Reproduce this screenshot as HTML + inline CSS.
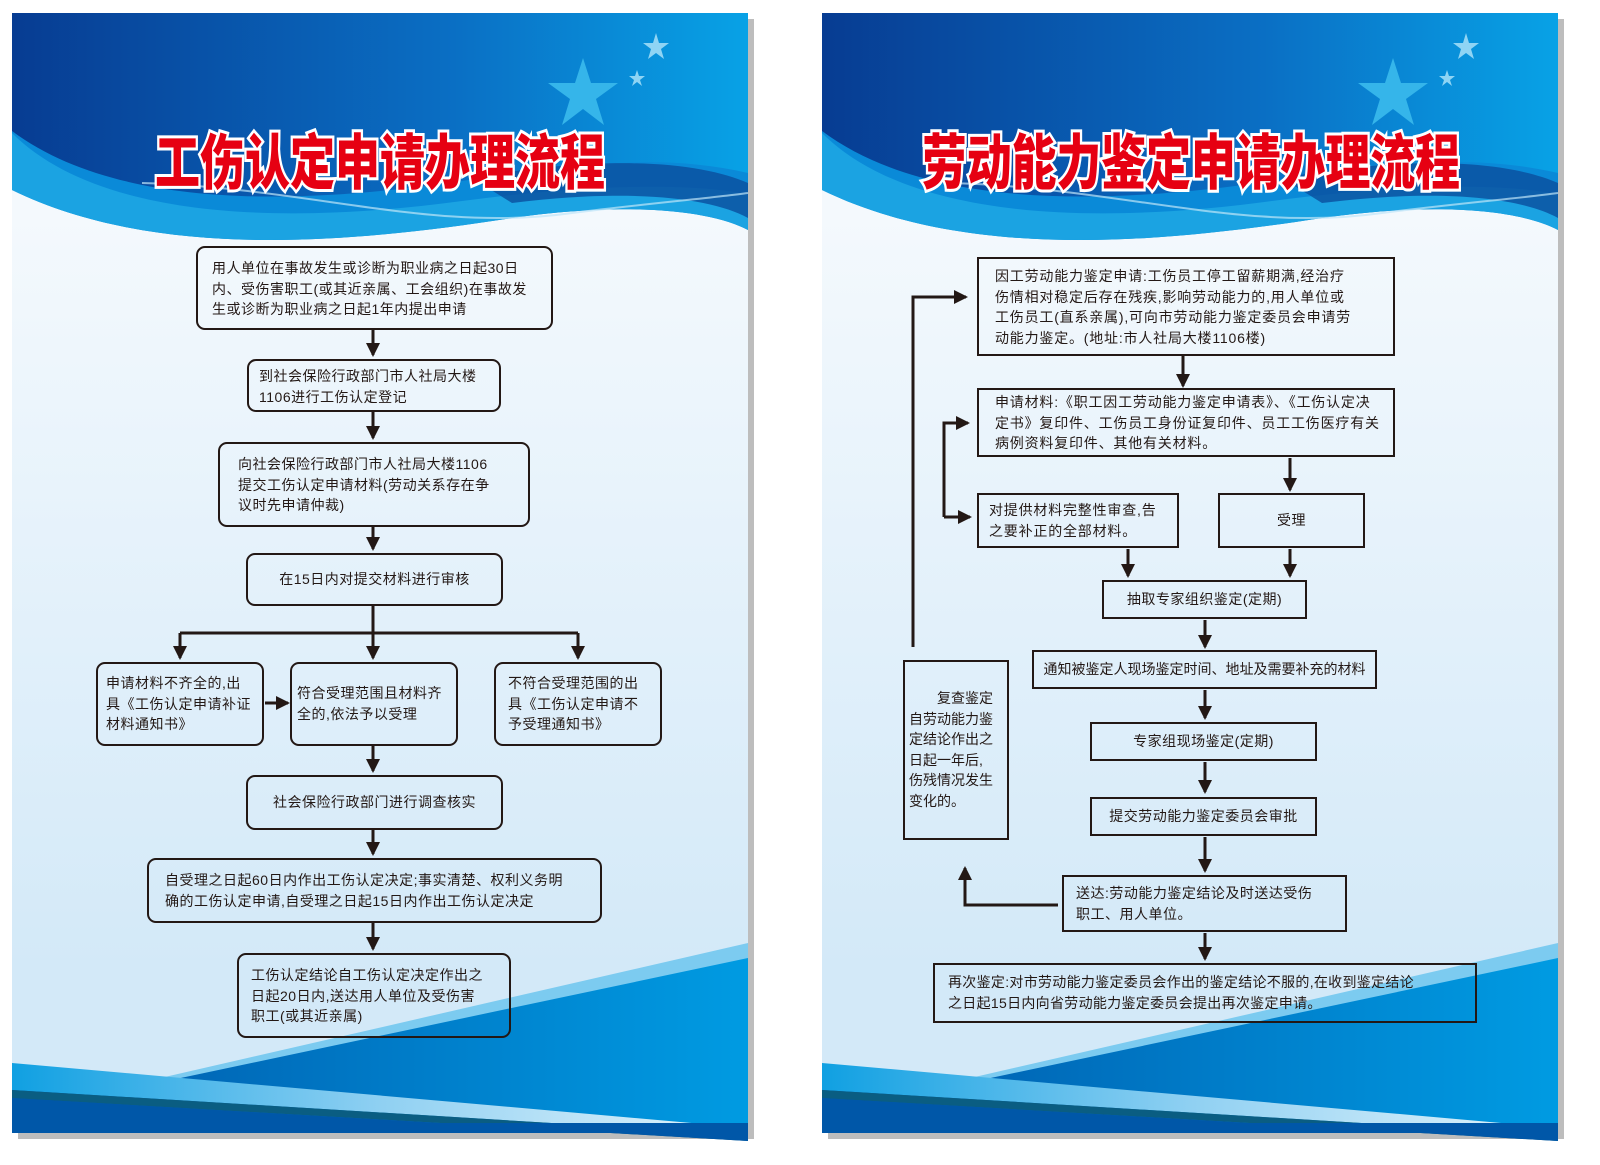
<!DOCTYPE html>
<html><head><meta charset="utf-8"><style>
*{margin:0;padding:0;box-sizing:border-box}
body{width:1600px;height:1165px;background:#fff;position:relative;overflow:hidden;font-family:"Liberation Sans","Noto Sans CJK SC",sans-serif;color:#231815}
svg.bg{position:absolute;left:0;top:0}
.b{position:absolute;border:2px solid #231815;font-size:14px;line-height:20.5px;letter-spacing:0.5px;padding:10px 12px;white-space:nowrap}
.r{border-radius:9px}
.c{text-align:center;display:flex;align-items:center;justify-content:center;padding:0}
</style></head><body>
<svg class="bg" width="1600" height="1165" viewBox="0 0 1600 1165">
<defs>
<linearGradient id="hd" x1="0" x2="1" y1="0" y2="0"><stop offset="0" stop-color="#073c92"/><stop offset="0.6" stop-color="#0a6fc4"/><stop offset="1" stop-color="#08a2e6"/></linearGradient>
<linearGradient id="bd" x1="0" x2="0" y1="0" y2="1"><stop offset="0.18" stop-color="#f4f9fd"/><stop offset="0.85" stop-color="#d3e9f8"/></linearGradient>
<linearGradient id="bt" x1="0" x2="1" y1="0" y2="0"><stop offset="0" stop-color="#0058aa"/><stop offset="1" stop-color="#009be2"/></linearGradient>
<linearGradient id="sw" x1="0" x2="1" y1="0" y2="0"><stop offset="0" stop-color="#10a0e2"/><stop offset="0.5" stop-color="#8fd0f2"/><stop offset="1" stop-color="#e6f5fc"/></linearGradient>
<g id="panel">
<rect x="6" y="6" width="736" height="1120" fill="#bdbdbd"/>
<rect x="0" y="0" width="736" height="1120" fill="url(#bd)"/>
<path d="M0,177 C150,250 350,228 500,205 C620,188 700,198 736,217 V0 H0Z" fill="#0a8ad8"/>
<path d="M0,120 C80,200 250,215 450,188 C600,168 700,172 736,182 V217 C700,198 620,188 500,205 C350,228 150,250 0,177Z" fill="#1ba3e2"/>
<path d="M0,0 H736 V160 C650,140 560,150 450,168 C300,190 110,200 0,118 Z" fill="url(#hd)"/>
<path d="M460,165 C600,140 690,150 736,170 V205 C700,185 620,175 500,190 Z" fill="#0a4e9e" opacity="0.8"/>
<path d="M130,170 C300,175 420,220 560,200 C640,190 700,185 736,180" fill="none" stroke="#bfe6f8" stroke-width="2" opacity="0.7"/>
<polygon points="571,45 579,70 606,70 584,86 592,112 571,96 550,112 558,86 536,70 563,70" fill="#35b5ea"/>
<polygon points="644,20 647,30 657,30 649,36 652,46 644,40 636,46 639,36 631,30 641,30" fill="#8fd4f4"/>
<polygon points="625,57 627,63 633,63 628,67 630,73 625,69 620,73 622,67 617,63 623,63" fill="#8fd4f4"/>
<polygon points="118,1072 736,940 736,1120 0,1120 0,1075" fill="url(#bt)"/>
<polygon points="118,1072 736,930 736,945 145,1070" fill="#7ccbf0"/>
<polygon points="0,1050 736,1115 736,1122 0,1077" fill="url(#sw)"/>
<polygon points="0,1077 736,1122 736,1128 0,1085" fill="#0a5d82"/>
<polygon points="0,1085 736,1128 736,1120 736,1120 0,1120" fill="#0057a8"/>
<rect x="0" y="1110" width="736" height="10" fill="#0057a8"/>
</g>
<marker id="ar" markerWidth="16" markerHeight="16" refX="12" refY="7" orient="auto" markerUnits="userSpaceOnUse"><path d="M0,0 L14,7 L0,14Z" fill="#231815"/></marker>
</defs>
<use href="#panel" x="12" y="13"/>
<use href="#panel" x="822" y="13"/>
<g font-family="'Noto Sans CJK SC','WenQuanYi Zen Hei',sans-serif" font-weight="900" fill="#e60012" stroke="#fff" stroke-width="6" paint-order="stroke" font-size="60">
<text x="155" y="184" textLength="450" lengthAdjust="spacingAndGlyphs">工伤认定申请办理流程</text>
<text x="922" y="184" textLength="538" lengthAdjust="spacingAndGlyphs">劳动能力鉴定申请办理流程</text>
</g>
<g stroke="#231815" stroke-width="3" fill="none" marker-end="url(#ar)">
<line x1="373" y1="330" x2="373" y2="355"/>
<line x1="373" y1="412" x2="373" y2="438"/>
<line x1="373" y1="527" x2="373" y2="549"/>
<line x1="180" y1="633" x2="180" y2="658"/>
<line x1="373" y1="606" x2="373" y2="658"/>
<line x1="578" y1="633" x2="578" y2="658"/>
<line x1="265" y1="703" x2="288" y2="703"/>
<line x1="373" y1="746" x2="373" y2="771"/>
<line x1="373" y1="830" x2="373" y2="854"/>
<line x1="373" y1="923" x2="373" y2="949"/>
<line x1="1183" y1="356" x2="1183" y2="386"/>
<line x1="1290" y1="458" x2="1290" y2="490"/>
<line x1="1128" y1="549" x2="1128" y2="576"/>
<line x1="1290" y1="549" x2="1290" y2="576"/>
<line x1="1205" y1="620" x2="1205" y2="647"/>
<line x1="1205" y1="690" x2="1205" y2="718"/>
<line x1="1205" y1="762" x2="1205" y2="792"/>
<line x1="1205" y1="837" x2="1205" y2="871"/>
<line x1="1205" y1="933" x2="1205" y2="959"/>
<polyline points="913,647 913,297 966,297"/>
<polyline points="944,517 944,423 968,423"/>
<line x1="944" y1="517" x2="970" y2="517"/>
<polyline points="1058,905 965,905 965,868"/>
</g>
<line x1="180" y1="633" x2="578" y2="633" stroke="#231815" stroke-width="3"/>
</svg>

<div class="b r" style="left:196px;top:246px;width:357px;height:84px;padding:10px 14px">用人单位在事故发生或诊断为职业病之日起30日<br>内、受伤害职工(或其近亲属、工会组织)在事故发<br>生或诊断为职业病之日起1年内提出申请</div>
<div class="b r" style="left:247px;top:359px;width:254px;height:53px;padding:5px 10px">到社会保险行政部门市人社局大楼<br>1106进行工伤认定登记</div>
<div class="b r" style="left:218px;top:442px;width:312px;height:85px;padding:10px 18px">向社会保险行政部门市人社局大楼1106<br>提交工伤认定申请材料(劳动关系存在争<br>议时先申请仲裁)</div>
<div class="b r c" style="left:246px;top:553px;width:257px;height:53px">在15日内对提交材料进行审核</div>
<div class="b r" style="left:96px;top:662px;width:168px;height:84px;padding:9px 8px">申请材料不齐全的,出<br>具《工伤认定申请补证<br>材料通知书》</div>
<div class="b r" style="left:290px;top:662px;width:168px;height:84px;padding:19px 5px">符合受理范围且材料齐<br>全的,依法予以受理</div>
<div class="b r" style="left:494px;top:662px;width:168px;height:84px;padding:9px 12px">不符合受理范围的出<br>具《工伤认定申请不<br>予受理通知书》</div>
<div class="b r c" style="left:246px;top:775px;width:257px;height:55px">社会保险行政部门进行调查核实</div>
<div class="b r" style="left:147px;top:858px;width:455px;height:65px;padding:10px 16px">自受理之日起60日内作出工伤认定决定;事实清楚、权利义务明<br>确的工伤认定申请,自受理之日起15日内作出工伤认定决定</div>
<div class="b r" style="left:237px;top:953px;width:274px;height:85px;padding:10px 12px">工伤认定结论自工伤认定决定作出之<br>日起20日内,送达用人单位及受伤害<br>职工(或其近亲属)</div>

<div class="b" style="left:977px;top:257px;width:418px;height:99px;padding:7px 16px;letter-spacing:0.8px">因工劳动能力鉴定申请:工伤员工停工留薪期满,经治疗<br>伤情相对稳定后存在残疾,影响劳动能力的,用人单位或<br>工伤员工(直系亲属),可向市劳动能力鉴定委员会申请劳<br>动能力鉴定。(地址:市人社局大楼1106楼)</div>
<div class="b" style="left:977px;top:388px;width:418px;height:69px;padding:2px 16px;letter-spacing:0.8px">申请材料:《职工因工劳动能力鉴定申请表》、《工伤认定决<br>定书》复印件、工伤员工身份证复印件、员工工伤医疗有关<br>病例资料复印件、其他有关材料。</div>
<div class="b" style="left:977px;top:493px;width:202px;height:55px;padding:5px 10px;letter-spacing:0.8px">对提供材料完整性审查,告<br>之要补正的全部材料。</div>
<div class="b c" style="left:1218px;top:493px;width:147px;height:55px">受理</div>
<div class="b c" style="left:1102px;top:580px;width:205px;height:39px">抽取专家组织鉴定(定期)</div>
<div class="b c" style="left:1032px;top:650px;width:345px;height:39px;letter-spacing:0">通知被鉴定人现场鉴定时间、地址及需要补充的材料</div>
<div class="b c" style="left:1090px;top:722px;width:227px;height:39px">专家组现场鉴定(定期)</div>
<div class="b c" style="left:1090px;top:797px;width:227px;height:39px">提交劳动能力鉴定委员会审批</div>
<div class="b" style="left:1062px;top:875px;width:285px;height:57px;padding:6px 12px">送达:劳动能力鉴定结论及时送达受伤<br>职工、用人单位。</div>
<div class="b" style="left:933px;top:963px;width:544px;height:60px;padding:7px 13px;letter-spacing:0.3px">再次鉴定:对市劳动能力鉴定委员会作出的鉴定结论不服的,在收到鉴定结论<br>之日起15日内向省劳动能力鉴定委员会提出再次鉴定申请。</div>
<div class="b" style="left:903px;top:660px;width:106px;height:180px;padding:26px 4px;letter-spacing:0">　　复查鉴定<br>自劳动能力鉴<br>定结论作出之<br>日起一年后,<br>伤残情况发生<br>变化的。</div>
</body></html>
